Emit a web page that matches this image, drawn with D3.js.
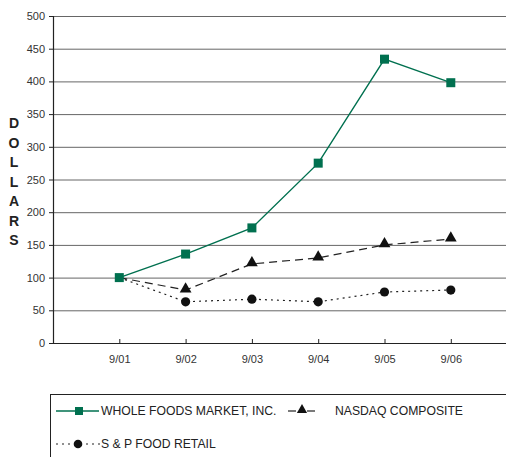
<!DOCTYPE html>
<html><head><meta charset="utf-8">
<script src="https://cdn.jsdelivr.net/npm/d3@7/dist/d3.min.js"></script>
<style>body{margin:0;background:#fff;}svg{display:block;font-family:"Liberation Sans",Arial,sans-serif;}</style>
</head><body>
<svg id="c" width="506" height="457"></svg>
<script>
const categories = ["9/01","9/02","9/03","9/04","9/05","9/06"];
const wholeFoods = [100,136,176,275,434,398];
const nasdaq = [100,81,121,130,150,159];
const spFood = [100,63,67,63,78,81];
const yTicks = [0,50,100,150,200,250,300,350,400,450,500];
const seriesNames = ["WHOLE FOODS MARKET, INC.","NASDAQ COMPOSITE","S & P FOOD RETAIL"];
const yTitle = "DOLLARS";

(function(){
const svg = d3.select("#c");
const mLeft = 53, mTop = 16, mBottom = 343, mRight = 506;
const x = d3.scalePoint().domain(categories).range([119.3, 450.8]);
const y = d3.scaleLinear().domain([0,500]).range([mBottom, mTop]);
const green = "#00704f";

svg.append("g").selectAll("line").data(yTicks.filter(d=>d>0)).join("line")
  .attr("x1", mLeft).attr("x2", mRight).attr("y1", d=>y(d)+0.5).attr("y2", d=>y(d)+0.5)
  .attr("stroke", "#666").attr("stroke-width", 1);

const ya = svg.append("g").attr("transform", `translate(${mLeft},0)`)
  .call(d3.axisLeft(y).tickValues(yTicks).tickSize(4).tickPadding(4).tickFormat(d3.format("d")));
ya.select(".domain").attr("stroke", "#222").attr("stroke-width", 1.2);
ya.selectAll(".tick line").attr("stroke", "#222");
ya.selectAll("text").attr("font-size", 11).attr("fill", "#333").attr("font-family", "Liberation Sans, Arial, sans-serif");

const xa = svg.append("g").attr("transform", `translate(0,${mBottom})`)
  .call(d3.axisBottom(x).tickSize(-4).tickSizeOuter(0).tickPadding(12));
xa.select(".domain").attr("d", `M${mLeft},0.5H${mRight}`).attr("stroke", "#222").attr("stroke-width", 1.2);
xa.selectAll(".tick line").attr("stroke", "#222");
xa.selectAll("text").attr("font-size", 11).attr("fill", "#333").attr("font-family", "Liberation Sans, Arial, sans-serif");

svg.append("g").selectAll("text").data(yTitle.split("")).join("text")
  .attr("x", 14).attr("y", (d,i)=>128 + i*19.5).attr("text-anchor","middle")
  .attr("font-size", 14).attr("font-weight", "bold").attr("fill", "#222").text(d=>d);

const line = d3.line().x((d,i)=>x(categories[i])).y(d=>y(d));

svg.append("path").attr("d", line(spFood)).attr("fill","none").attr("stroke","#222")
  .attr("stroke-width",1.2).attr("stroke-dasharray","2,4");
svg.append("path").attr("d", line(nasdaq)).attr("fill","none").attr("stroke","#222")
  .attr("stroke-width",1.2).attr("stroke-dasharray","8,5");
svg.append("path").attr("d", line(wholeFoods)).attr("fill","none").attr("stroke",green)
  .attr("stroke-width",1.4);

const tri = d3.symbol().type(d3.symbolTriangle).size(60);
svg.append("g").selectAll("path").data(nasdaq.slice(1)).join("path")
  .attr("d", tri).attr("transform",(d,i)=>`translate(${x(categories[i+1])},${y(d)-1})`).attr("fill","#111");
svg.append("g").selectAll("circle").data(spFood.slice(1)).join("circle")
  .attr("cx",(d,i)=>x(categories[i+1])).attr("cy",d=>y(d)).attr("r",4.6).attr("fill","#111");
svg.append("g").selectAll("rect").data(wholeFoods).join("rect")
  .attr("x",(d,i)=>x(categories[i])-4.5).attr("y",d=>y(d)-4.5).attr("width",9).attr("height",9).attr("fill",green);

const lg = svg.append("g");
lg.append("rect").attr("x",50.5).attr("y",394.5).attr("width",470).attr("height",80)
  .attr("fill","none").attr("stroke","#222").attr("stroke-width",1);
lg.append("line").attr("x1",56).attr("x2",99).attr("y1",411).attr("y2",411).attr("stroke",green).attr("stroke-width",1.4);
lg.append("rect").attr("x",75).attr("y",407).attr("width",8).attr("height",8).attr("fill",green);
lg.append("text").attr("x",101).attr("y",415).attr("font-size",12.2).attr("fill","#222").text(seriesNames[0]);
lg.append("line").attr("x1",288).attr("x2",296).attr("y1",411).attr("y2",411).attr("stroke","#222").attr("stroke-width",1.2);
lg.append("line").attr("x1",307).attr("x2",315).attr("y1",411).attr("y2",411).attr("stroke","#222").attr("stroke-width",1.2);
lg.append("path").attr("d", d3.symbol().type(d3.symbolTriangle).size(45)).attr("transform","translate(302,410)").attr("fill","#111");
lg.append("text").attr("x",335).attr("y",415).attr("font-size",12.2).attr("fill","#222").text(seriesNames[1]);
lg.append("line").attr("x1",56).attr("x2",100).attr("y1",444).attr("y2",444).attr("stroke","#222").attr("stroke-width",1.2).attr("stroke-dasharray","2,4");
lg.append("circle").attr("cx",78).attr("cy",444).attr("r",4.3).attr("fill","#111");
lg.append("text").attr("x",101).attr("y",448).attr("font-size",12.2).attr("fill","#222").text(seriesNames[2]);
})();
</script>
</body></html>
